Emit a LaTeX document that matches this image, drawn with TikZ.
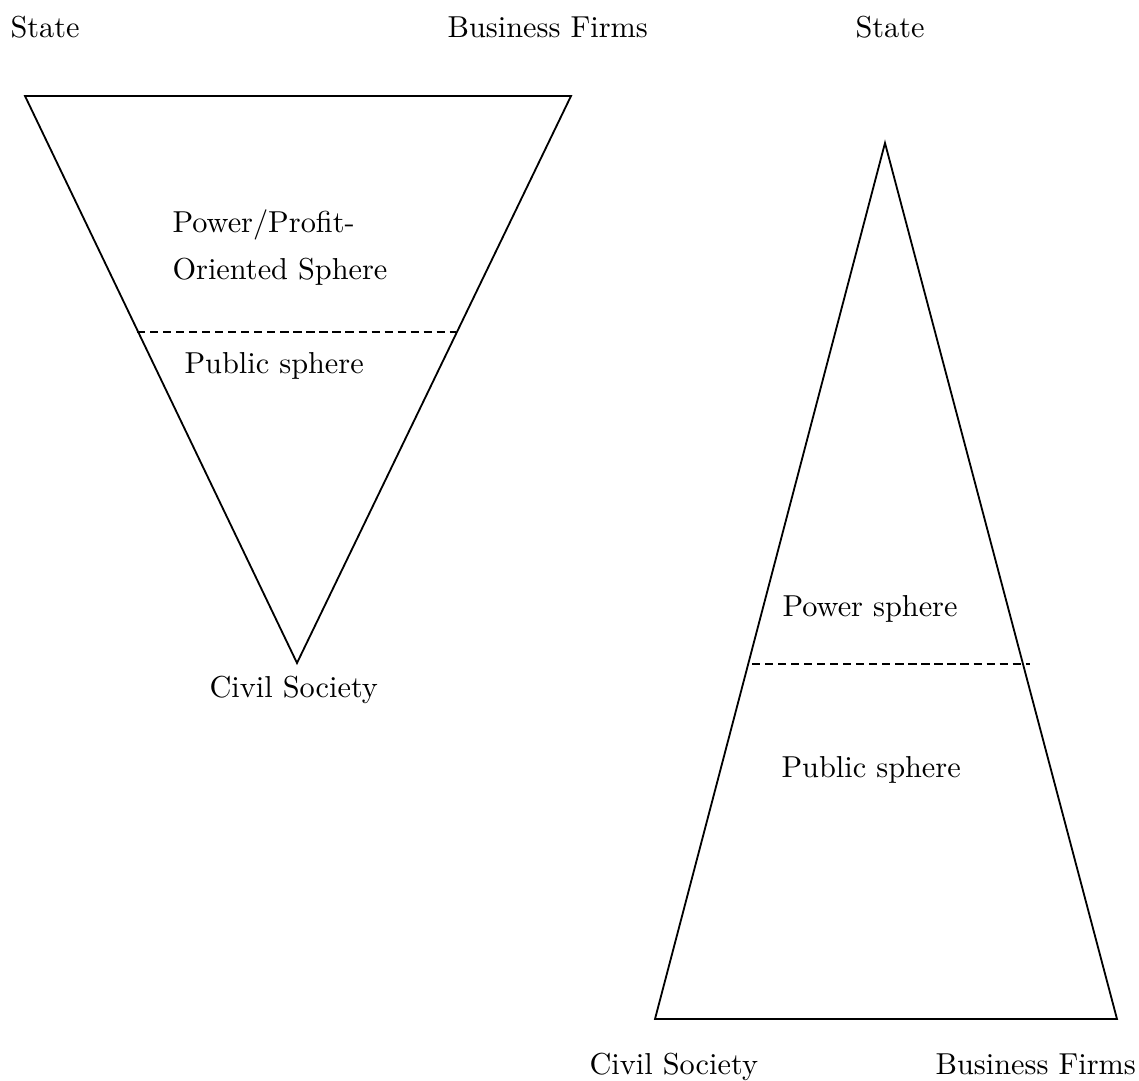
\documentclass[tikz,border=0pt]{standalone}
\begin{document}
\begin{tikzpicture}[x=0.33pt,y=-0.33pt,
  lbl/.style={inner sep=0pt,anchor=base west,font=\fontsize{10}{12}\selectfont},
  edge/.style={line width=0.6pt,line join=miter},
  divider/.style={line width=0.6pt,dash pattern=on 2.7pt off 1.6pt}]
\useasboundingbox (0,0) rectangle (1139,1081);
% left inverted triangle
\coordinate (LA) at (25,96);
\coordinate (LB) at (571,96);
\coordinate (LC) at (297,663);
\draw[edge] (LA) -- (LB) -- (LC) -- cycle;
\coordinate (LD1) at (137,332);
\coordinate (LD2) at (456,332);
\draw[divider] (LD1) -- (LD2);
% right triangle
\coordinate (RA) at (885,143);
\coordinate (RB) at (655,1019);
\coordinate (RC) at (1117,1019);
\draw[edge] (RA) -- (RB) -- (RC) -- cycle;
\coordinate (RD1) at (752,664);
\coordinate (RD2) at (1030,664);
\draw[divider] (RD1) -- (RD2);
% labels
\node[lbl] (state1) at (10,37) {State};
\node[lbl] (biz1) at (447,37) {Business Firms};
\node[lbl] (state2) at (855,37) {State};
\node[lbl] (pp1) at (172,232) {Power/Profit-};
\node[lbl] (pp2) at (172,279) {Oriented Sphere};
\node[lbl] (pub1) at (184,373) {Public sphere};
\node[lbl] (civ1) at (209,697) {Civil Society};
\node[lbl] (pow2) at (782,616) {Power sphere};
\node[lbl] (pub2) at (781,777) {Public sphere};
\node[lbl] (civ2) at (589,1074) {Civil Society};
\node[lbl] (biz2) at (935,1074) {Business Firms};
\end{tikzpicture}
\end{document}
